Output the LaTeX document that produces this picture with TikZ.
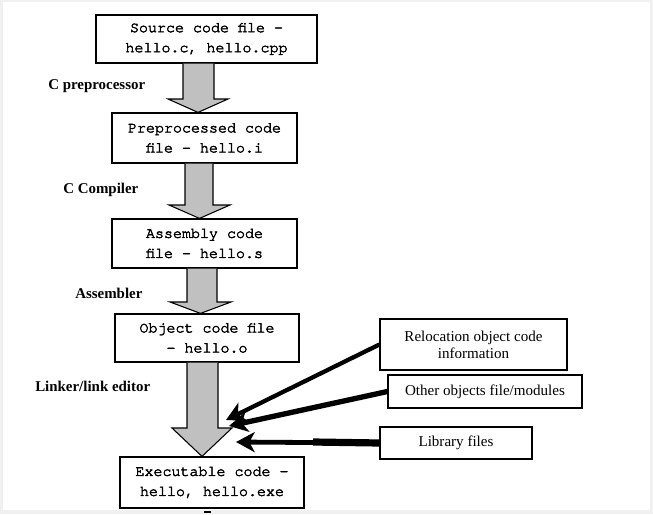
\documentclass[tikz,border=0pt]{standalone}
\usepackage{fontspec}
\setmainfont{Liberation Serif}
\setmonofont{Liberation Mono}
\newfontface\cursorface{texgyrecursor-regular.otf}[FakeBold=3]
\usetikzlibrary{arrows.meta}
\definecolor{frame}{HTML}{F0F0F0}
\definecolor{shaft}{HTML}{C0C0C0}
% Courier-style face for the file boxes
\newcommand\codefont{\cursorface\fontsize{11.25}{15}\selectfont}
\tikzset{
  codebox/.style={draw=black, line width=0.9pt, fill=white, align=center,
    font=\codefont, inner sep=0pt},
  sidebox/.style={draw=black, line width=0.9pt, fill=white, align=center,
    font=\fontsize{11.3}{12.8}\selectfont, inner sep=0pt},
  stagelabel/.style={anchor=west, inner sep=0pt, font=\bfseries\fontsize{11.2}{13}\selectfont},
  blockarr/.style={draw=black, line width=0.8pt, fill=shaft, line join=miter},
  fatarrow/.style={draw=black, line width=3.2pt,
    -{Stealth[length=14pt,width=15pt,inset=4pt]}},
}
% block arrow: from, to, shaft left, shaft right, head left, head right, tip x, head top y
\newcommand\blockarrow[8]{%
  \filldraw[blockarr] (#3,0 |- #1.south) -- (#3,#8) -- (#5,#8) -- (#7,0 |- #2.north)
    -- (#6,#8) -- (#4,#8) -- (#4,0 |- #1.south);}
\begin{document}
\begin{tikzpicture}[x=0.75pt,y=-0.75pt]
  \useasboundingbox (0,0) rectangle (653,514);
  \fill[frame] (0,0) rectangle (653,514);
  \fill[white] (3,2) rectangle (650,510);

  % main pipeline
  \node[codebox, minimum width=165.75pt, minimum height=36pt] (src) at (206.5,39)
    {Source code file -\\hello.c, hello.cpp};
  \node[codebox, minimum width=138.75pt, minimum height=37.5pt] (pre) at (204.5,138)
    {Preprocessed code\\file - hello.i};
  \node[codebox, minimum width=138.75pt, minimum height=36.75pt] (asm) at (204.5,243.5)
    {Assembly code\\file - hello.s};
  \node[codebox, minimum width=138pt, minimum height=36pt] (obj) at (207,338)
    {Object code file\\- hello.o};
  \node[codebox, minimum width=138pt, minimum height=38.25pt] (exe) at (212,482.5)
    {Executable code -\\hello, hello.exe};

  % side inputs to the linker
  \node[sidebox, minimum width=140.25pt, minimum height=38.25pt] (reloc) at (473.5,344.5)
    {Relocation object code\\information};
  \node[sidebox, minimum width=145.5pt, minimum height=24.75pt] (other) at (485,391.5)
    {Other objects file/modules};
  \node[sidebox, minimum width=114pt, minimum height=24pt] (lib) at (456,443)
    {Library files};

  % stage arrows
  \blockarrow{src}{pre}{183}{214}{168}{228}{198}{99}
  \blockarrow{pre}{asm}{185}{213}{169}{230}{199.5}{205}
  \blockarrow{asm}{obj}{187}{217}{170}{231}{200.5}{302}
  \blockarrow{obj}{exe}{187}{218}{172}{232}{202}{428}

  % stage labels
  \node[stagelabel] (lpre) at (48,86) {C preprocessor};
  \node[stagelabel] (lcc)  at (63,190) {C Compiler};
  \node[stagelabel] (las)  at (75,293) {Assembler};
  \node[stagelabel] (lld)  at (35,386) {Linker/link editor};

  % linker inputs
  \coordinate (treloc) at (226,420);
  \coordinate (tother) at (229,426);
  \coordinate (tlib)   at (236,442);
  \coordinate (libneck) at (313,442);
  \draw[fatarrow] (reloc.west) -- (treloc);
  \draw[fatarrow, line width=4pt] (other.west) -- (tother);
  \draw[fatarrow, line width=3.6pt] (lib.west) -- (tlib);
  \draw[line width=5.4pt] (lib.west) -- (libneck);

  % stub below the executable box
  \draw[line width=1.5pt] (204,511.5) -- (211,511.5);
\end{tikzpicture}
\end{document}
